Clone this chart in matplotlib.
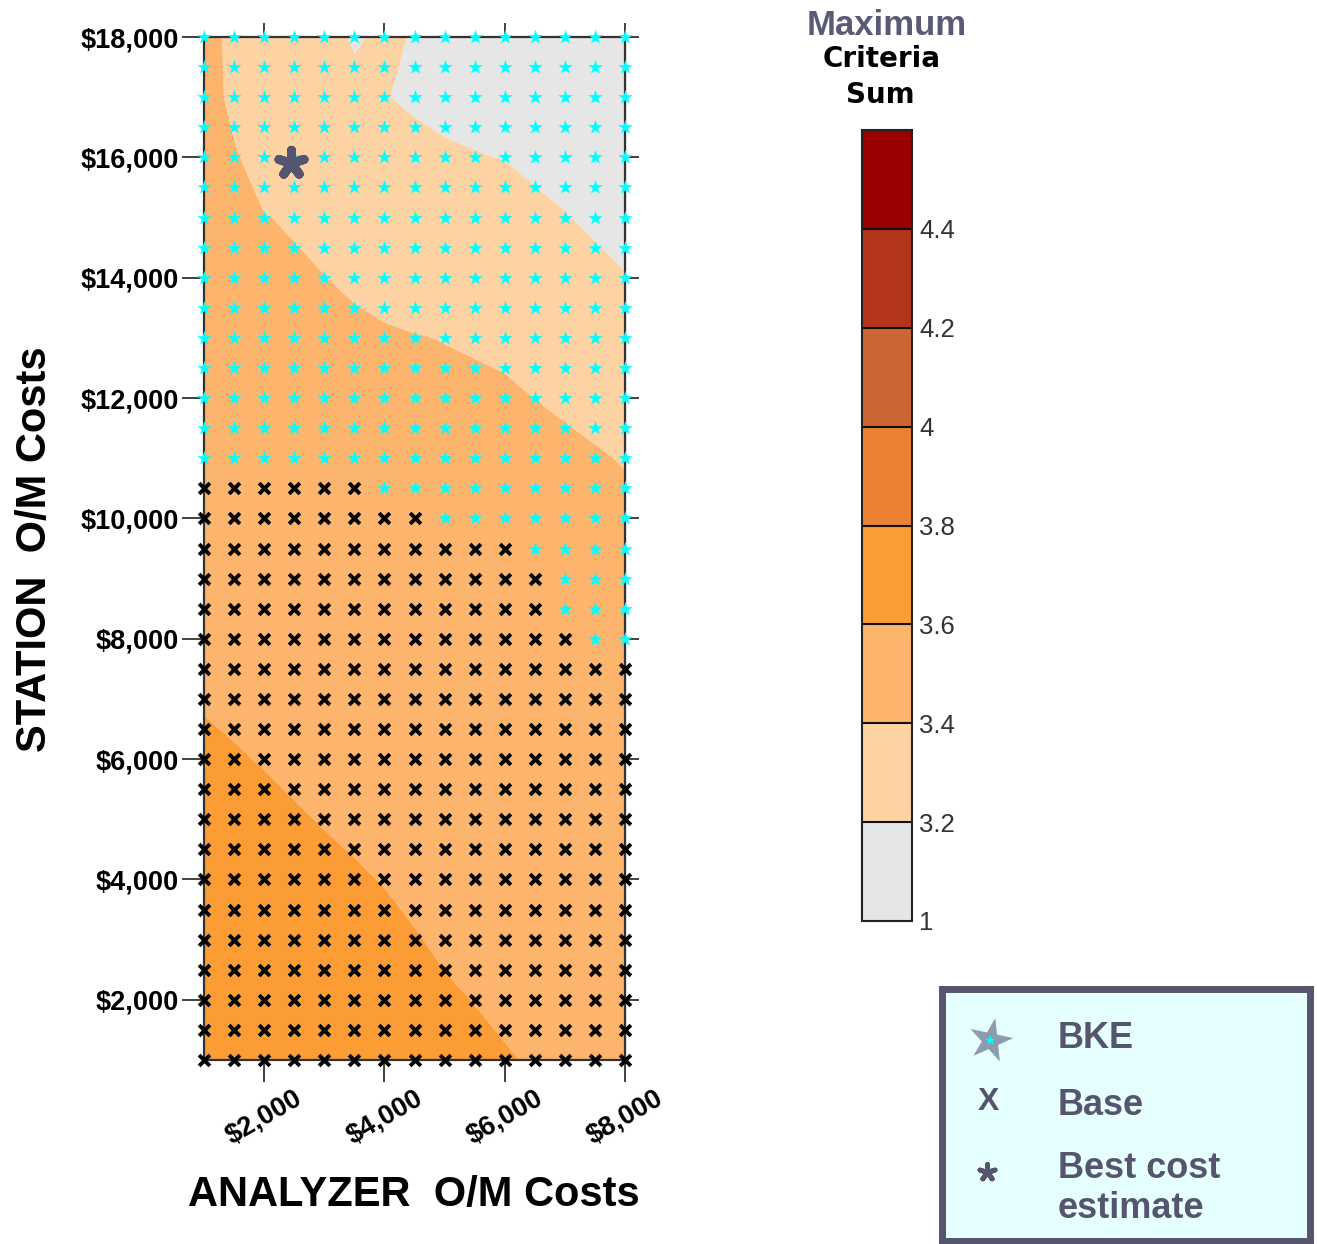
import numpy as np
import matplotlib
matplotlib.use("Agg")
import matplotlib.pyplot as plt
from matplotlib.markers import MarkerStyle
from matplotlib.transforms import Affine2D

# ---------------- data ----------------
# contour field: Maximum Criteria Sum on a rectilinear grid
analyzer_grid = [1000, 1500, 2000, 3000, 3500, 4000, 4500, 5000, 6000, 7000, 8000]
station_grid = [1000, 2000, 3000, 4000, 5000, 6000, 7000, 8000, 9000,
                10000, 11000, 12000, 13000, 14000, 15000, 16000, 17000, 18000]
criteria_sum = [
    [3.740, 3.722, 3.704, 3.683, 3.672, 3.660, 3.644, 3.628, 3.605, 3.584, 3.567],
    [3.715, 3.699, 3.683, 3.662, 3.651, 3.639, 3.624, 3.609, 3.588, 3.569, 3.552],
    [3.691, 3.676, 3.661, 3.640, 3.629, 3.618, 3.604, 3.590, 3.571, 3.554, 3.537],
    [3.666, 3.653, 3.639, 3.618, 3.608, 3.597, 3.584, 3.570, 3.554, 3.539, 3.522],
    [3.641, 3.630, 3.618, 3.596, 3.586, 3.576, 3.564, 3.551, 3.538, 3.524, 3.507],
    [3.616, 3.606, 3.596, 3.575, 3.565, 3.555, 3.544, 3.532, 3.521, 3.508, 3.492],
    [3.594, 3.585, 3.575, 3.553, 3.544, 3.534, 3.524, 3.513, 3.504, 3.493, 3.477],
    [3.575, 3.564, 3.553, 3.531, 3.522, 3.513, 3.504, 3.494, 3.487, 3.478, 3.462],
    [3.556, 3.544, 3.532, 3.509, 3.500, 3.491, 3.483, 3.474, 3.470, 3.463, 3.447],
    [3.537, 3.524, 3.510, 3.488, 3.479, 3.470, 3.463, 3.455, 3.454, 3.448, 3.432],
    [3.519, 3.504, 3.489, 3.466, 3.458, 3.449, 3.445, 3.440, 3.437, 3.433, 3.392],
    [3.500, 3.484, 3.467, 3.444, 3.436, 3.428, 3.427, 3.425, 3.420, 3.378, 3.330],
    [3.485, 3.466, 3.446, 3.422, 3.416, 3.410, 3.404, 3.397, 3.371, 3.320, 3.267],
    [3.470, 3.447, 3.424, 3.401, 3.388, 3.370, 3.352, 3.334, 3.313, 3.263, 3.206],
    [3.460, 3.430, 3.403, 3.380, 3.345, 3.310, 3.293, 3.276, 3.255, 3.206, 3.150],
    [3.455, 3.410, 3.360, 3.330, 3.295, 3.260, 3.240, 3.212, 3.197, 3.150, 3.100],
    [3.450, 3.374, 3.300, 3.280, 3.225, 3.205, 3.180, 3.176, 3.150, 3.100, 3.060],
    [3.445, 3.370, 3.295, 3.240, 3.190, 3.215, 3.195, 3.175, 3.120, 3.070, 3.030],
]
levels = [1, 3.2, 3.4, 3.6, 3.8, 4.0, 4.2, 4.4, 4.6]
level_labels = ["1", "3.2", "3.4", "3.6", "3.8", "4", "4.2", "4.4"]
band_colors = ["#E6E6E6", "#FDD3A4", "#FDB46C", "#FC9C35", "#EB8233",
               "#CC6632", "#B3351A", "#990000"]

# scenario points (500-step grid)
analyzer_pts = [1000, 1500, 2000, 2500, 3000, 3500, 4000, 4500, 5000,
                5500, 6000, 6500, 7000, 7500, 8000]
station_pts = [1000, 1500, 2000, 2500, 3000, 3500, 4000, 4500, 5000, 5500,
               6000, 6500, 7000, 7500, 8000, 8500, 9000, 9500, 10000, 10500,
               11000, 11500, 12000, 12500, 13000, 13500, 14000, 14500, 15000,
               15500, 16000, 16500, 17000, 17500, 18000]
# highest analyzer cost at which "Base" is the preferred option, per station row
base_upto = [8000, 8000, 8000, 8000, 8000, 8000, 8000, 8000, 8000, 8000,
             8000, 8000, 8000, 8000, 7000, 6500, 6500, 6000, 4500, 3500,
             0, 0, 0, 0, 0, 0, 0, 0, 0, 0, 0, 0, 0, 0, 0]
best_cost = (2450, 15900)

x_ticks = [2000, 4000, 6000, 8000]
x_tick_labels = ["$2,000", "$4,000", "$6,000", "$8,000"]
y_ticks = [2000, 4000, 6000, 8000, 10000, 12000, 14000, 16000, 18000]
y_tick_labels = ["$2,000", "$4,000", "$6,000", "$8,000", "$10,000",
                 "$12,000", "$14,000", "$16,000", "$18,000"]

# ---------------- figure ----------------
W, H = 1317, 1244
plt.rcParams["font.family"] = ["Liberation Sans", "DejaVu Sans"]
fig = plt.figure(figsize=(W / 100, H / 100), dpi=100)

ax = fig.add_axes([204 / W, 1 - 1060 / H, 421 / W, 1023 / H])
cf = ax.contourf(analyzer_grid, station_grid, np.array(criteria_sum),
                 levels=levels, colors=band_colors, antialiased=True)
ax.set_xlim(1000, 8000)
ax.set_ylim(1000, 18000)

bx, by, sx, sy = [], [], [], []
for yv, lim in zip(station_pts, base_upto):
    for xv in analyzer_pts:
        if xv <= lim:
            bx.append(xv); by.append(yv)
        else:
            sx.append(xv); sy.append(yv)
ax.scatter(sx, sy, marker="*", s=120, c="#00FFFF", linewidths=0,
           clip_on=False, zorder=4)
ax.scatter(bx, by, marker="x", s=60, c="black", linewidths=2.8,
           clip_on=False, zorder=4)
ax.scatter([best_cost[0]], [best_cost[1]], marker=(5, 2, 0), s=360,
           c="#55556F", linewidths=6.5, zorder=5)

for sp in ax.spines.values():
    sp.set_linewidth(1.6)
    sp.set_color("#333333")
ax.set_xticks(x_ticks)
ax.set_xticklabels(x_tick_labels, rotation=30, ha="center",
                   fontsize=19.5, fontweight="bold")
ax.set_yticks(y_ticks)
ax.set_yticklabels(y_tick_labels, fontsize=19.5, fontweight="bold")
ax.tick_params(axis="both", direction="out", length=16, width=1.3,
               color="#333333", pad=2)

secx = ax.secondary_xaxis("top")
secx.set_xticks(x_ticks)
secx.set_xticklabels([])
secx.tick_params(direction="out", length=10, width=1.3, color="#333333")
secy = ax.secondary_yaxis("right")
secy.set_yticks(y_ticks)
secy.set_yticklabels([])
secy.tick_params(direction="out", length=10, width=1.3, color="#333333")

fig.text(414 / W, 1 - 1195 / H, "ANALYZER  O/M Costs", ha="center",
         va="center", fontsize=30, fontweight="bold")
fig.text(35 / W, 1 - 549 / H, "STATION  O/M Costs", ha="center",
         va="center", rotation=90, fontsize=30, fontweight="bold")

# ---------------- colorbar ----------------
cax = fig.add_axes([862 / W, 1 - 921 / H, 50 / W, 791 / H])
cb = fig.colorbar(cf, cax=cax, drawedges=True)
cb.set_ticks(levels[:-1])
cb.set_ticklabels(level_labels)
cb.ax.tick_params(length=0, pad=5, labelsize=18.5, labelcolor="#333333")
cb.outline.set_linewidth(1.5)
cb.outline.set_edgecolor("#222222")
cb.dividers.set_linewidth(1.5)
cb.dividers.set_color("#111111")

fig.text(887 / W, 1 - 35 / H, "Maximum", ha="center", va="baseline",
         fontsize=25, fontweight="bold", color="#5A5A78")
fig.text(882 / W, 1 - 67 / H, "Criteria", ha="center", va="baseline",
         fontsize=20, fontweight="bold", family="DejaVu Sans", color="black")
fig.text(880 / W, 1 - 103 / H, "Sum", ha="center", va="baseline",
         fontsize=20, fontweight="bold", family="DejaVu Sans", color="black")

# ---------------- legend box ----------------
lax = fig.add_axes([941.5 / W, 1 - 1240.5 / H, 368 / W, 252 / H])
lax.set_facecolor("#E6FFFF")
lax.set_xlim(0, 368)
lax.set_ylim(252, 0)
lax.set_xticks([]); lax.set_yticks([])
for sp in lax.spines.values():
    sp.set_linewidth(5)
    sp.set_color("#55556F")
leg_col = "#55556F"
star_m = MarkerStyle("*", transform=Affine2D().rotate_deg(-12))
lax.scatter([48.5], [51.5], marker=star_m, s=1100, c="#8C9CAE", linewidths=0)
lax.scatter([48.5], [51.5], marker="*", s=60, c="#00FFFF", linewidths=0)
lax.text(46.5, 121.5, "X", ha="center", va="baseline", fontsize=23,
         fontweight="bold", color=leg_col)
lax.scatter([45.5], [183.5], marker=(5, 2, 0), s=130, c=leg_col, linewidths=3.5)
lax.text(116.5, 59.5, "BKE", ha="left", va="baseline", fontsize=26,
         fontweight="bold", color=leg_col)
lax.text(116.5, 126.5, "Base", ha="left", va="baseline", fontsize=26,
         fontweight="bold", color=leg_col)
lax.text(116.5, 189.5, "Best cost", ha="left", va="baseline", fontsize=26,
         fontweight="bold", color=leg_col)
lax.text(116.5, 229.5, "estimate", ha="left", va="baseline", fontsize=26,
         fontweight="bold", color=leg_col)

fig.savefig("out.png", dpi=100)
